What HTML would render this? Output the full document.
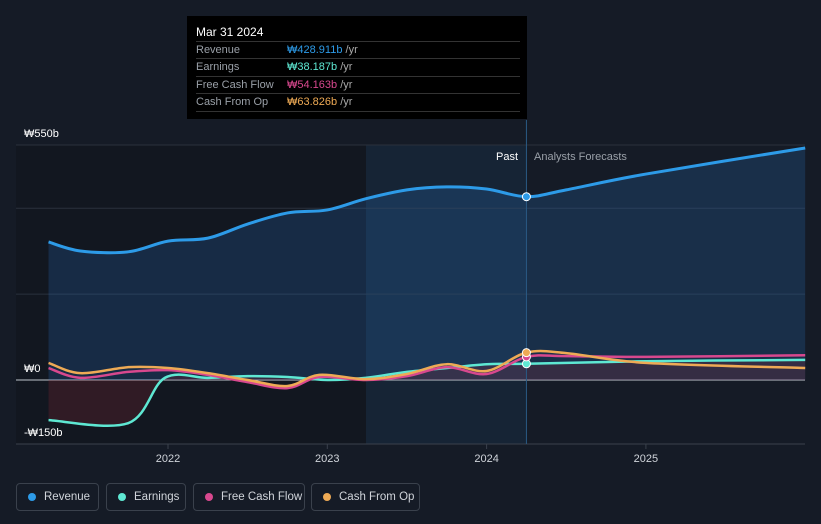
<!DOCTYPE html>
<html><head><meta charset="utf-8"><style>
body{margin:0;background:#151b26;font-family:"Liberation Sans","Noto Sans CJK KR",sans-serif;}
#wrap{position:relative;width:821px;height:524px;overflow:hidden}
.tt{position:absolute;left:187px;top:16px;width:340px;height:103px;background:#000;color:#fff;font-size:11px}
.tt .h{position:absolute;left:9px;top:9px;font-size:12px}
.row{position:absolute;left:9px;width:324px;height:17px;border-top:1px solid #333;color:#9aa0a8;line-height:17px}
.row span{position:absolute;left:91px}
.leg{position:absolute;top:483px;height:28px;border:1px solid #3a414c;border-radius:4px;color:#d0d4da;font-size:11.5px;line-height:26px;box-sizing:border-box;padding-left:27px;white-space:nowrap}
.leg i{position:absolute;left:11px;top:9px;width:8px;height:8px;border-radius:50%}
</style></head><body><div id="wrap">
<svg id="svg" width="821" height="524" style="position:absolute;left:0;top:0"></svg>
<div class="tt">
<div class="h">Mar 31 2024</div>
<div class="row" style="top:25px">Revenue<span style="color:#2d9be8">₩428.911b <b style="color:#aaa;font-weight:normal">/yr</b></span></div>
<div class="row" style="top:42px">Earnings<span style="color:#5ee8d3">₩38.187b <b style="color:#aaa;font-weight:normal">/yr</b></span></div>
<div class="row" style="top:60px">Free Cash Flow<span style="color:#d8488e">₩54.163b <b style="color:#aaa;font-weight:normal">/yr</b></span></div>
<div class="row" style="top:77px;border-bottom:1px solid #333">Cash From Op<span style="color:#eeaa55">₩63.826b <b style="color:#aaa;font-weight:normal">/yr</b></span></div>
</div>
<div class="leg" style="left:16px;width:83px"><i style="background:#2d9be8"></i>Revenue</div>
<div class="leg" style="left:106px;width:80px"><i style="background:#5ee8d3"></i>Earnings</div>
<div class="leg" style="left:193px;width:112px"><i style="background:#d8488e"></i>Free Cash Flow</div>
<div class="leg" style="left:311px;width:109px"><i style="background:#eeaa55"></i>Cash From Op</div>
</div>
<script>
const revT=[2021.25,2021.45,2021.75,2022.0,2022.25,2022.5,2022.75,2023.0,2023.24,2023.5,2023.75,2024.0,2024.25,2024.5,2025.0,2026.0];
const revV=[323,302,300,325,332,365,391,398,424,445,452,447,429,445,482,543];
const earnT=[2021.25,2021.75,2021.98,2022.25,2022.5,2022.75,2023.0,2023.24,2023.5,2023.75,2024.0,2024.25,2025.0,2026.0];
const earnV=[-94,-101,5,5,9,7,0,5,19,28,37,38,44,47];
const cfT=[2021.25,2021.45,2021.75,2022.0,2022.25,2022.5,2022.75,2022.95,2023.24,2023.5,2023.75,2024.0,2024.25,2024.5,2025.0,2026.0];
const fcfV=[28,5,19,23,12,-5,-19,7,0,9,30,14,54,56,54,58];
const cfoV=[40,16,30,28,16,0,-14,12,2,14,37,21,64,63,40,28];
const yTicks=[550,0,-150];const yLabels=["₩550b","₩0","-₩150b"];
const xTicks=[2022,2023,2024,2025];
const grid=[550,402,201,0];
const X=t=>168+(t-2022)*159.3, Y=v=>380-v*0.4273;
const s=document.getElementById('svg'),NS='http://www.w3.org/2000/svg';
function el(n,a,nm){const e=document.createElementNS(NS,n);for(const k in a)e.setAttribute(k,a[k]);


s.appendChild(e);return e;}
function path(T,V){const p=T.map((t,i)=>[X(t),Y(V[i])]);let d='M'+p[0];for(let i=0;i<p.length-1;i++){const a=p[i-1]||p[i],b=p[i],c=p[i+1],e=p[i+2]||c;
d+=`C${b[0]+(c[0]-a[0])/6},${b[1]+(c[1]-a[1])/6} ${c[0]-(e[0]-b[0])/6},${c[1]-(e[1]-b[1])/6} ${c[0]},${c[1]}`;}return d;}
el('rect',{x:16,y:145,width:350,height:299,fill:'#121720'},'past-band');
el('rect',{x:366,y:145,width:X(2024.25)-366,height:299,fill:'#162435'},'recent-band');
grid.forEach(g=>el('line',{x1:16,x2:805,y1:Y(g),y2:Y(g),stroke:g==0?'#bfc4cc':'#2a313c','stroke-width':1},'gridline'));
el('line',{x1:16,x2:805,y1:444,y2:444,stroke:'#3a414c'},'x-axis');
el('path',{d:path(revT,revV)+`L${X(2026)},${Y(0)}L${X(2021.25)},${Y(0)}Z`,fill:'rgba(40,120,200,0.22)'},'revenue-area');
el('path',{d:path(earnT,earnV)+`L${X(2026)},${Y(0)}L${X(2021.25)},${Y(0)}Z`,fill:'rgba(140,40,50,0.25)'},'earnings-area');
el('line',{x1:X(2024.25),x2:X(2024.25),y1:120,y2:444,stroke:'#2a5a85'},'divider');
el('path',{d:path(revT,revV),fill:'none',stroke:'#2d9be8','stroke-width':3},'revenue-line');
el('path',{d:path(earnT,earnV),fill:'none',stroke:'#5ee8d3','stroke-width':2.5},'earnings-line');
el('path',{d:path(cfT,fcfV),fill:'none',stroke:'#d8488e','stroke-width':2.5},'fcf-line');
el('path',{d:path(cfT,cfoV),fill:'none',stroke:'#eeaa55','stroke-width':2.5},'cfo-line');
[[revV[12],'#2d9be8'],[earnV[11],'#5ee8d3'],[fcfV[12],'#d8488e'],[cfoV[12],'#eeaa55']].forEach(([v,c])=>el('circle',{cx:X(2024.25),cy:Y(v),r:4,fill:c,stroke:'#fff','stroke-width':1},'marker'));
yTicks.forEach((v,i)=>{const t=el('text',{x:24,y:Y(v)-8,fill:'#fff','font-size':11},'y-tick-label');t.textContent=yLabels[i];});
xTicks.forEach(v=>{el('line',{x1:X(v),x2:X(v),y1:444,y2:449,stroke:'#3a414c'},'x-tick');const t=el('text',{x:X(v),y:462,fill:'#d0d4da','font-size':11,'text-anchor':'middle'},'x-tick-label');t.textContent=v;});
let t=el('text',{x:518,y:160,fill:'#fff','font-size':11,'text-anchor':'end'},'past-label');t.textContent='Past';
t=el('text',{x:534,y:160,fill:'#9aa0a8','font-size':11},'forecast-label');t.textContent='Analysts Forecasts';
</script></body></html>
